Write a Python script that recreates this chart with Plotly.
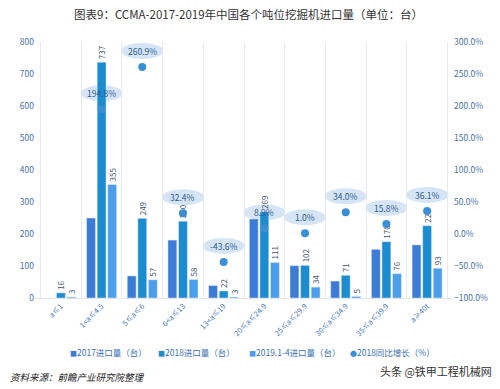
import plotly.graph_objects as go

categories = ["a≤1", "1<a≤4.5", "5≤a≤6", "6<a≤13", "13<a≤19", "20≤a≤24.9",
              "25≤a≤29.9", "30≤a≤34.9", "35≤a≤39.9", "a≥40t"]
imports_2017 = [0, 250, 69, 181, 39, 247, 101, 53, 152, 166]
imports_2018 = [16, 737, 249, 240, 22, 269, 102, 71, 176, 226]
imports_2019 = [3, 355, 57, 58, 3, 111, 34, 5, 76, 93]
growth_2018 = [None, 194.8, 260.9, 32.4, -43.6, 8.9, 1.0, 34.0, 15.8, 36.1]
series_names = ["2017进口量（台）", "2018进口量（台）", "2019.1-4进口量（台）", "2018同比增长（%）"]

FONT = "Noto Sans CJK SC"
c2017 = "#3C7BD6"
c2018 = "#1C8CD0"
c2019 = "#4A9EEA"
cdot = "#3B8FD6"
label_col = "#3a5f96"

# plot area in pixels: x 35..456, y 42..298
L, R, T, B = 35, 44, 42, 91
PW, PH = 500 - L - R, 389 - T - B


def px(xp):
    return (xp - L) / PW


def py(yp):
    return (389 - B - yp) / PH


fig = go.Figure()
fig.add_trace(go.Bar(x=categories, y=imports_2017, name=series_names[0],
                     marker_color=c2017))
for vals, nm, col in [(imports_2018, series_names[1], c2018),
                      (imports_2019, series_names[2], c2019)]:
    fig.add_trace(go.Bar(x=categories, y=vals, name=nm, marker_color=col,
                         text=[str(v) for v in vals], textposition="outside",
                         textangle=-90, constraintext="none",
                         textfont=dict(size=8, color="#44546a", family=FONT),
                         cliponaxis=False))
fig.add_trace(go.Scatter(x=categories, y=growth_2018, name=series_names[3],
                         mode="markers", yaxis="y2",
                         marker=dict(size=8, color=cdot)))

shapes = []
annotations = []
for cat, g in zip(categories, growth_2018):
    if g is None:
        continue
    shapes.append(dict(type="circle", xref="x", yref="y2",
                       xsizemode="pixel", ysizemode="pixel",
                       xanchor=cat, yanchor=g,
                       x0=-21, x1=21, y0=8, y1=24,
                       fillcolor="#d5e5f6", line=dict(width=0), layer="below"))
    annotations.append(dict(x=cat, y=g, xref="x", yref="y2", yshift=16,
                            text=f"{g:.1f}%", showarrow=False,
                            font=dict(size=8.5, color="#2d5a98", family=FONT)))

# title
annotations.append(dict(x=px(250), y=py(14), xref="paper", yref="paper",
                        xanchor="center", yanchor="middle",
                        text="图表9：CCMA-2017-2019年中国各个吨位挖掘机进口量（单位：台）",
                        showarrow=False, font=dict(size=11.5, color="#333", family=FONT)))
# legend (manual, compact)
legend_x = [68, 157, 249, 350]
legend_sym = ["■", "■", "■", "●"]
legend_col = [c2017, c2018, c2019, cdot]
for lx, sym, col, nm in zip(legend_x, legend_sym, legend_col, series_names):
    annotations.append(dict(x=px(lx), y=py(352), xref="paper", yref="paper",
                            xanchor="left", yanchor="middle", showarrow=False,
                            text=f"<span style='color:{col};font-size:7px'>{sym}</span>{nm}",
                            font=dict(size=8.5, color="#3a6fb8", family=FONT)))
# source
annotations.append(dict(x=px(8), y=py(377), xref="paper", yref="paper",
                        xanchor="left", yanchor="middle", showarrow=False,
                        text="<i>资料来源：前瞻产业研究院整理</i>",
                        font=dict(size=9.5, color="#222", family=FONT)))
# watermark
annotations.append(dict(x=px(497), y=py(371), xref="paper", yref="paper",
                        xanchor="right", yanchor="middle", showarrow=False,
                        text="头条 @铁甲工程机械网",
                        font=dict(size=11, color="#333", family=FONT)))

fig.update_layout(
    width=500, height=389,
    margin=dict(l=L, r=R, t=T, b=B),
    paper_bgcolor="white", plot_bgcolor="white",
    font=dict(family=FONT, size=9, color=label_col),
    barmode="group", bargap=0.22, bargroupgap=0.16,
    showlegend=False,
    xaxis=dict(type="category", tickangle=-45, tickson="boundaries",
               showgrid=True, gridcolor="#e6eaf0", gridwidth=1,
               ticks="", showline=True, linecolor="#e0e4ea",
               tickfont=dict(size=7.5, color="#4a78b8", family=FONT)),
    yaxis=dict(range=[0, 800], dtick=100, showgrid=False, zeroline=False,
               ticks="", tickfont=dict(size=8.5, color="#4a6fa8", family=FONT)),
    yaxis2=dict(range=[-100, 300], dtick=50, overlaying="y", side="right",
                showgrid=False, zeroline=False, tickformat=".1f", ticksuffix="%",
                ticks="", tickfont=dict(size=8.5, color="#4a6fa8", family=FONT)),
    shapes=shapes, annotations=annotations,
)

fig.write_html("out.html", config={"displayModeBar": False},
               post_script="document.body.style.margin='0';document.body.style.overflow='hidden';")
